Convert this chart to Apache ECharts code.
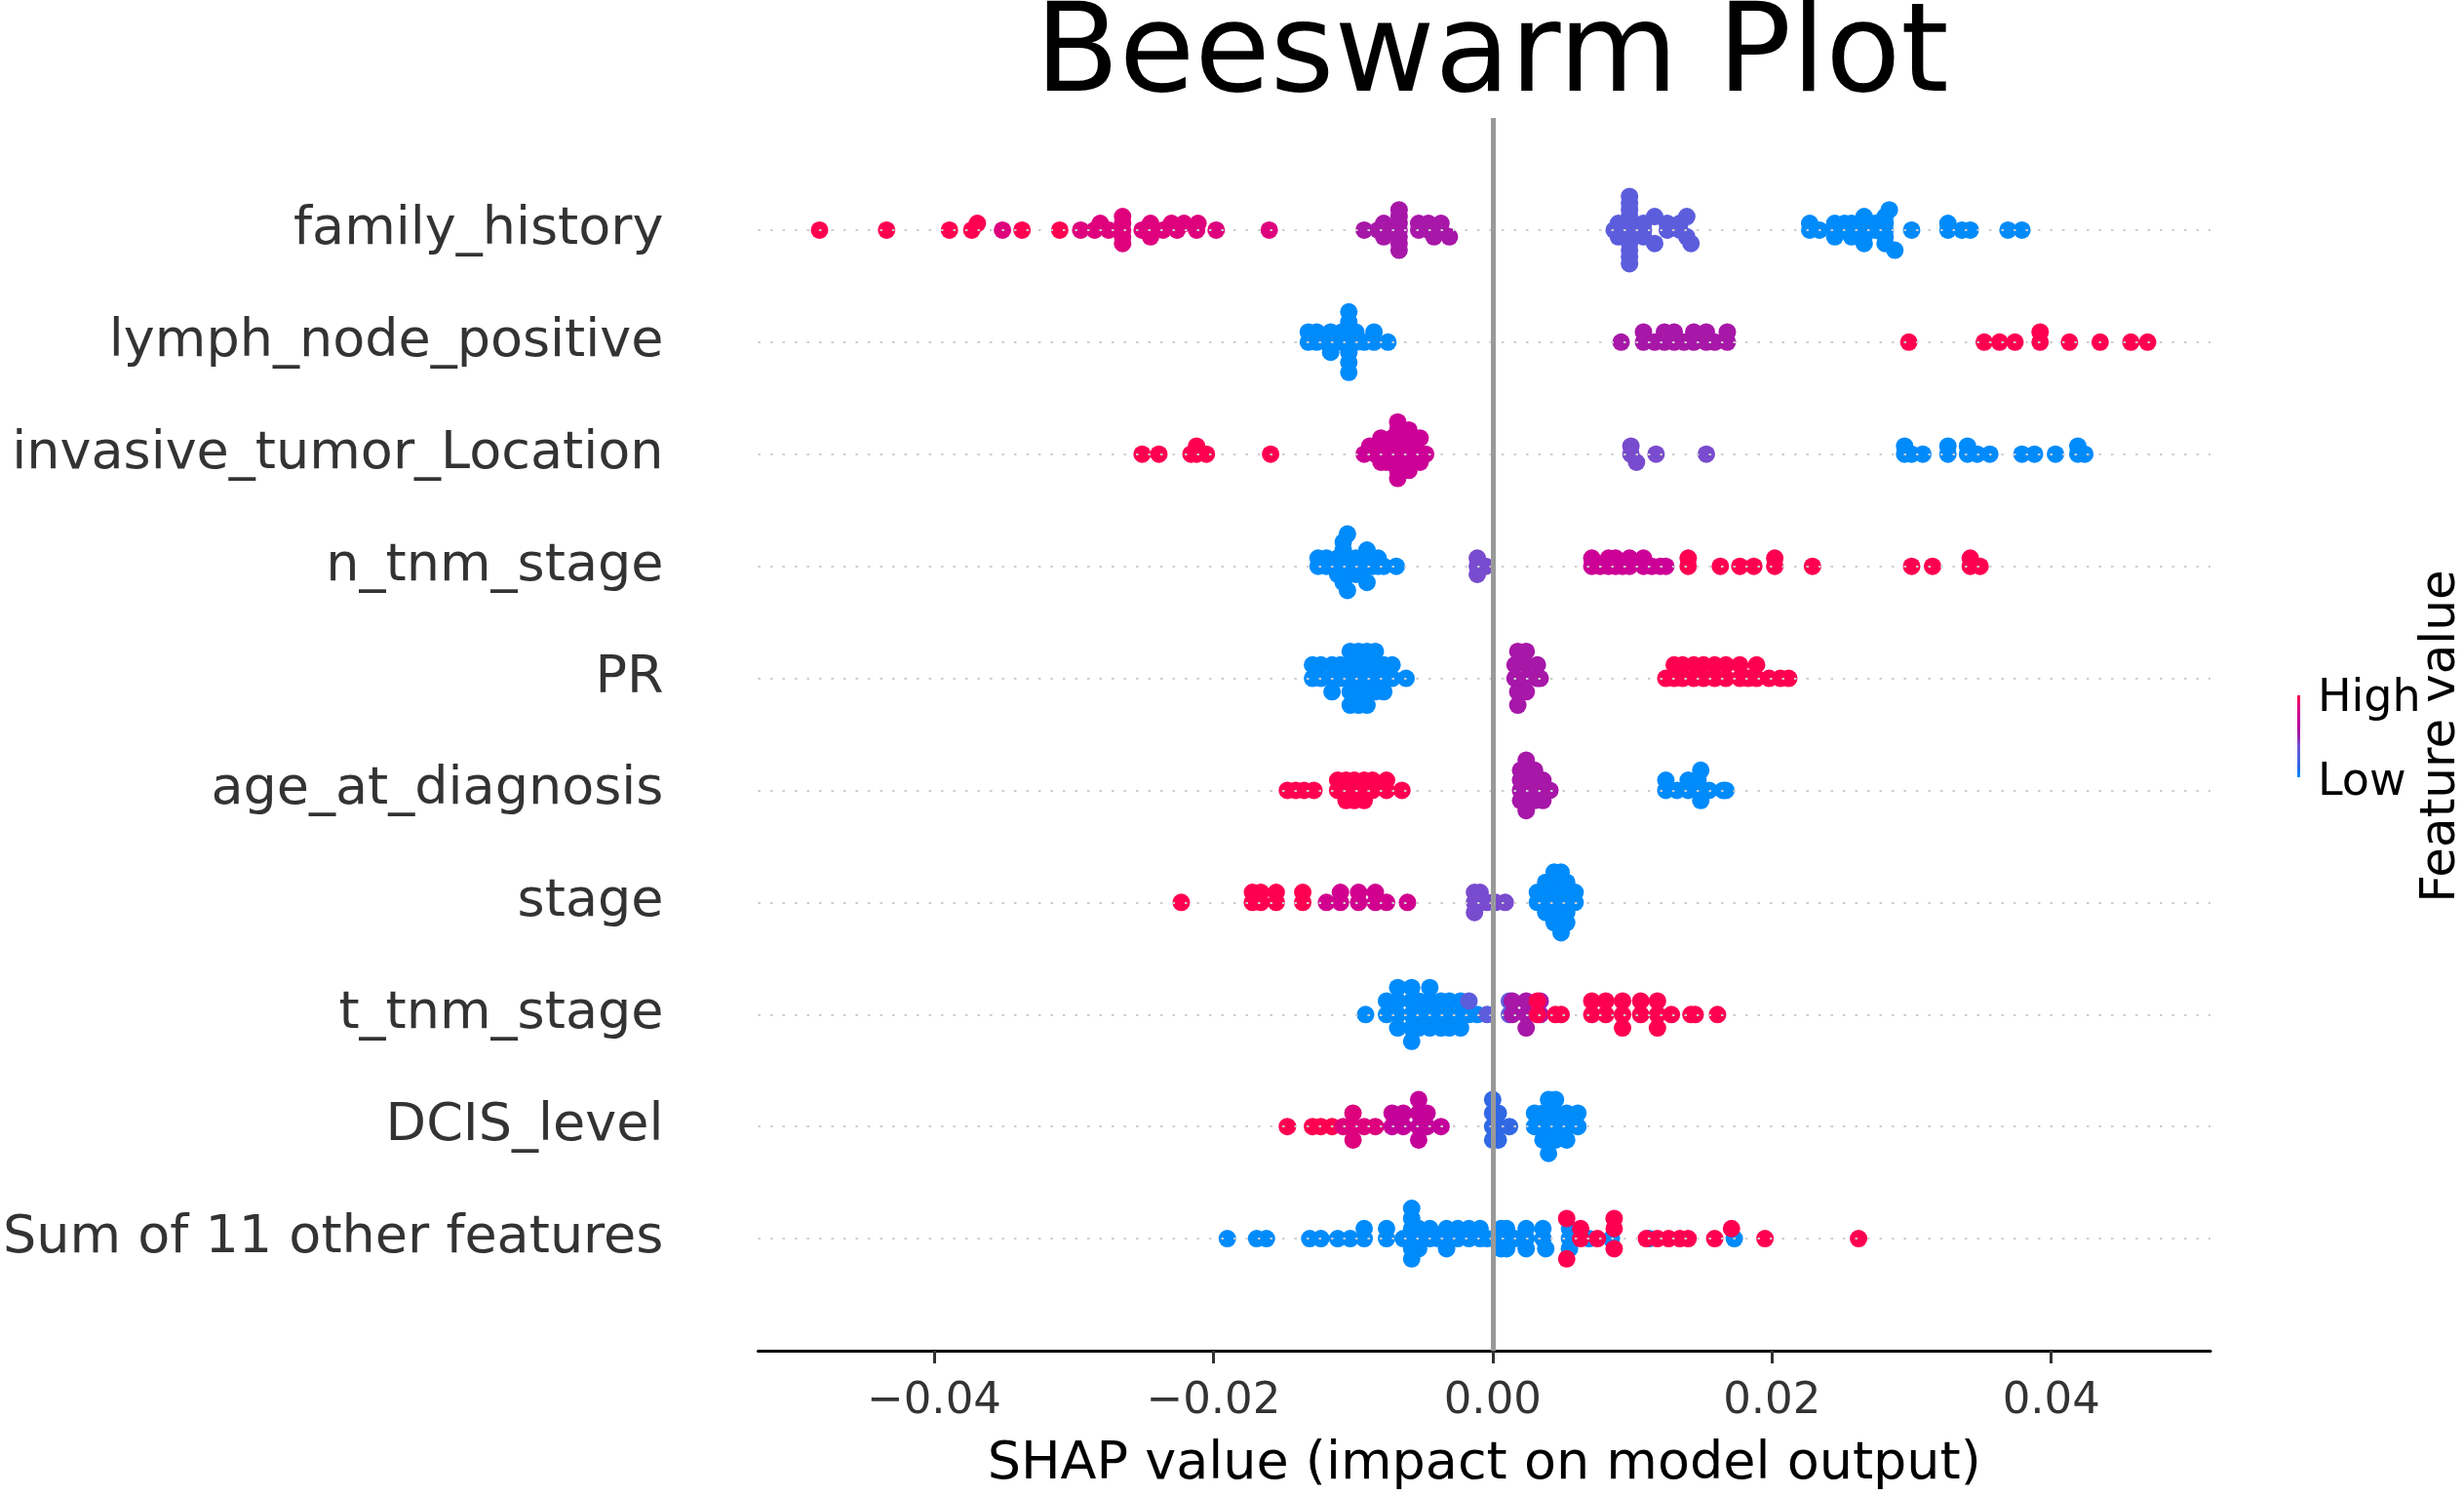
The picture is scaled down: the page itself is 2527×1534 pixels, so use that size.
<!DOCTYPE html>
<html>
<head>
<meta charset="utf-8">
<script src="https://cdn.jsdelivr.net/npm/echarts@6/dist/echarts.min.js"></script>
<style>
  html, body { margin: 0; padding: 0; background: #fff; }
  #main { width: 2527px; height: 1534px; }
</style>
</head>
<body>
<div id="main"></div>
<script>
// rows listed bottom -> top (row 0 is the bottom one)
const featureNames = [
  'Sum of 11 other features', 'DCIS_level', 't_tnm_stage', 'stage', 'age_at_diagnosis',
  'PR', 'n_tnm_stage', 'invasive_tumor_Location', 'lymph_node_positive', 'family_history'
];

const xTicks = [-0.04, -0.02, 0, 0.02, 0.04];

// each feature: [feature value level (0 = low, 1 = high), shap values]
const sumOther = [
  [0, [-0.0190, -0.0169, -0.0162, -0.0131, -0.0123, -0.0111, -0.0102, -0.0092, -0.0092, -0.0076, -0.0076, -0.0064,
       -0.0058, -0.0058, -0.0058, -0.0058, -0.0058, -0.0058, -0.0053, -0.0053, -0.0053, -0.0045, -0.0045, -0.0039,
       -0.0033, -0.0033, -0.0033, -0.0025, -0.0025, -0.0017, -0.0017, -0.0009, -0.0009, -0.0004, 0.0006, 0.0006, 0.0006,
       0.0010, 0.0010, 0.0010, 0.0016, 0.0024, 0.0024, 0.0024, 0.0036, 0.0036, 0.0038, 0.0055, 0.0055, 0.0055,
       0.0069, 0.0085, 0.0112, 0.0173]],
  [1, [0.0053, 0.0053, 0.0063, 0.0063, 0.0075, 0.0087, 0.0087, 0.0087, 0.0110, 0.0118, 0.0126, 0.0134, 0.0140,
       0.0159, 0.0171, 0.0195, 0.0262]]
];

const dcisLevel = [
  [1, [-0.0147, -0.0129, -0.0123, -0.0115]],
  [0.86, [-0.0107, -0.0100, -0.0100, -0.0100, -0.0092, -0.0084]],
  [0.7, [-0.0072, -0.0072, -0.0064, -0.0064, -0.0053, -0.0053, -0.0053, -0.0053, -0.0047, -0.0047, -0.0037]],
  [0.15, [0.0000, 0.0000, 0.0000, 0.0000, 0.0004, 0.0004, 0.0004, 0.0012]],
  [0, [0.0030, 0.0030, 0.0036, 0.0036, 0.0036, 0.0040, 0.0040, 0.0040, 0.0040, 0.0040, 0.0045, 0.0045, 0.0045,
       0.0045, 0.0053, 0.0053, 0.0053, 0.0061, 0.0061]]
];

const tTnmStage = [
  [0, [-0.0091, -0.0076, -0.0076, -0.0068, -0.0068, -0.0068, -0.0068, -0.0058, -0.0058, -0.0058, -0.0058, -0.0058,
       -0.0053, -0.0053, -0.0053, -0.0045, -0.0045, -0.0045, -0.0045, -0.0037, -0.0037, -0.0037, -0.0031, -0.0031,
       -0.0031, -0.0023, -0.0023, -0.0023, -0.0017, -0.0011]],
  [0.3, [-0.0017, -0.0004, 0.0012, 0.0012]],
  [0.55, [0.0014, 0.0014, 0.0024, 0.0024, 0.0024, 0.0034, 0.0034]],
  [1, [0.0032, 0.0032, 0.0045, 0.0049, 0.0071, 0.0071, 0.0081, 0.0081, 0.0093, 0.0093, 0.0093, 0.0106, 0.0106,
       0.0118, 0.0118, 0.0118, 0.0128, 0.0142, 0.0145, 0.0161]]
];

const stage = [
  [1, [-0.0223, -0.0172, -0.0172, -0.0166, -0.0166, -0.0155, -0.0155, -0.0136, -0.0136]],
  [0.78, [-0.0119, -0.0109, -0.0109, -0.0096, -0.0096, -0.0084, -0.0084, -0.0076, -0.0061]],
  [0.4, [-0.0013, -0.0013, -0.0013, -0.0009, -0.0009, -0.0004, 0.0002, 0.0009]],
  [0, [0.0032, 0.0032, 0.0038, 0.0038, 0.0038, 0.0038, 0.0044, 0.0044, 0.0044, 0.0044, 0.0044, 0.0044,
       0.0049, 0.0049, 0.0049, 0.0049, 0.0049, 0.0049, 0.0049, 0.0053, 0.0053, 0.0053, 0.0053, 0.0053, 0.0059, 0.0059]]
];

const ageAtDiagnosis = [
  [1, [-0.0147, -0.0141, -0.0135, -0.0128, -0.0111, -0.0111, -0.0105, -0.0105, -0.0105, -0.0099, -0.0099, -0.0099,
       -0.0092, -0.0092, -0.0092, -0.0086, -0.0086, -0.0076, -0.0076, -0.0065]],
  [0.55, [0.0020, 0.0020, 0.0020, 0.0020, 0.0024, 0.0024, 0.0024, 0.0024, 0.0024, 0.0024, 0.0030, 0.0030, 0.0030,
          0.0030, 0.0036, 0.0036, 0.0036, 0.0041]],
  [0, [0.0124, 0.0124, 0.0132, 0.0140, 0.0140, 0.0147, 0.0147, 0.0149, 0.0149, 0.0155, 0.0165, 0.0167]]
];

const pr = [
  [0, [-0.0129, -0.0129, -0.0123, -0.0123, -0.0115, -0.0115, -0.0115, -0.0109, -0.0109, -0.0102, -0.0102, -0.0102,
       -0.0102, -0.0102, -0.0096, -0.0096, -0.0096, -0.0096, -0.0096, -0.0090, -0.0090, -0.0090, -0.0090, -0.0090,
       -0.0084, -0.0084, -0.0084, -0.0084, -0.0078, -0.0078, -0.0078, -0.0072, -0.0072, -0.0062]],
  [0.55, [0.0016, 0.0016, 0.0018, 0.0018, 0.0018, 0.0024, 0.0024, 0.0024, 0.0024, 0.0032, 0.0032, 0.0034]],
  [1, [0.0124, 0.0130, 0.0130, 0.0136, 0.0136, 0.0144, 0.0144, 0.0151, 0.0151, 0.0159, 0.0159, 0.0167, 0.0167,
       0.0177, 0.0177, 0.0183, 0.0189, 0.0189, 0.0198, 0.0206, 0.0212]]
];

const nTnmStage = [
  [0, [-0.0125, -0.0125, -0.0119, -0.0119, -0.0111, -0.0111, -0.0111, -0.0107, -0.0107, -0.0107, -0.0107, -0.0107,
       -0.0107, -0.0104, -0.0104, -0.0098, -0.0098, -0.0098, -0.0094, -0.0094, -0.0094, -0.0090, -0.0090, -0.0086,
       -0.0086, -0.0082, -0.0082, -0.0078, -0.0069]],
  [0.4, [-0.0011, -0.0011, -0.0011, -0.0005]],
  [0.75, [0.0071, 0.0071, 0.0077, 0.0083, 0.0083, 0.0088, 0.0088, 0.0093, 0.0098, 0.0098, 0.0108, 0.0108, 0.0114,
          0.0120, 0.0124]],
  [1, [0.0140, 0.0140, 0.0163, 0.0177, 0.0187, 0.0202, 0.0202, 0.0229, 0.0300, 0.0315, 0.0342, 0.0342, 0.0349]]
];

const invasiveTumorLocation = [
  [1, [-0.0251, -0.0239, -0.0216, -0.0212, -0.0212, -0.0205, -0.0159]],
  [0.75, [-0.0092, -0.0088, -0.0084, -0.0084, -0.0080, -0.0080, -0.0076, -0.0076, -0.0076, -0.0072, -0.0072, -0.0072,
          -0.0072, -0.0068, -0.0068, -0.0068, -0.0068, -0.0064, -0.0064, -0.0064, -0.0060, -0.0060, -0.0060, -0.0056,
          -0.0056, -0.0052, -0.0052, -0.0048]],
  [0.4, [0.0099, 0.0099, 0.0103, 0.0117, 0.0153]],
  [0, [0.0295, 0.0295, 0.0300, 0.0308, 0.0326, 0.0326, 0.0340, 0.0340, 0.0347, 0.0356, 0.0379, 0.0388, 0.0403,
       0.0419, 0.0419, 0.0424]]
];

const lymphNodePositive = [
  [0, [-0.0132, -0.0132, -0.0126, -0.0126, -0.0119, -0.0116, -0.0116, -0.0116, -0.0108, -0.0108, -0.0103, -0.0103,
       -0.0103, -0.0103, -0.0103, -0.0103, -0.0103, -0.0098, -0.0098, -0.0092, -0.0085, -0.0085, -0.0075]],
  [0.55, [0.0092, 0.0108, 0.0108, 0.0116, 0.0123, 0.0123, 0.0130, 0.0130, 0.0137, 0.0144, 0.0144, 0.0153, 0.0153,
          0.0159, 0.0168, 0.0168]],
  [1, [0.0298, 0.0352, 0.0363, 0.0374, 0.0392, 0.0392, 0.0413, 0.0435, 0.0457, 0.0469]]
];

const familyHistory = [
  [1, [-0.0482, -0.0434, -0.0389, -0.0373, -0.0369, -0.0337, -0.0310]],
  [0.86, [-0.0351, -0.0295, -0.0285, -0.0281, -0.0275, -0.0265, -0.0265, -0.0265, -0.0265, -0.0265, -0.0251,
          -0.0245, -0.0245, -0.0245, -0.0236, -0.0230, -0.0226, -0.0221, -0.0212, -0.0211, -0.0198, -0.0160]],
  [0.55, [-0.0092, -0.0082, -0.0078, -0.0078, -0.0078, -0.0067, -0.0067, -0.0067, -0.0067, -0.0067, -0.0067,
          -0.0067, -0.0053, -0.0053, -0.0046, -0.0046, -0.0042, -0.0037, -0.0037, -0.0031]],
  [0.3, [0.0087, 0.0090, 0.0090, 0.0098, 0.0098, 0.0098, 0.0098, 0.0098, 0.0098, 0.0098, 0.0098, 0.0098, 0.0098,
         0.0098, 0.0108, 0.0108, 0.0108, 0.0116, 0.0116, 0.0125, 0.0125, 0.0134, 0.0134, 0.0139, 0.0139, 0.0142]],
  [0, [0.0227, 0.0227, 0.0234, 0.0245, 0.0245, 0.0245, 0.0252, 0.0252, 0.0257, 0.0257, 0.0257, 0.0266, 0.0266,
       0.0266, 0.0266, 0.0266, 0.0274, 0.0274, 0.0281, 0.0281, 0.0281, 0.0281, 0.0281, 0.0284, 0.0288, 0.0300,
       0.0326, 0.0326, 0.0336, 0.0342, 0.0369, 0.0379]]
];

const rows = [sumOther, dcisLevel, tTnmStage, stage, ageAtDiagnosis, pr, nTnmStage,
  invasiveTumorLocation, lymphNodePositive, familyHistory];

// shap-style swarm: bin by shap value, stack alternately above/below the row line
function swarmRow(groups, row) {
  const pts = [];
  groups.forEach(([level, vals]) => vals.forEach(v => pts.push([v, level])));
  const vals = pts.map(p => p[0]);
  const lo = Math.min(...vals), hi = Math.max(...vals);
  const quant = vals.map(v => Math.round(100 * (v - lo) / (hi - lo + 1e-8)));
  const order = vals.map((_, i) => i).sort((a, b) => quant[a] - quant[b] || a - b);
  const ys = new Array(vals.length).fill(0);
  let layer = 0, last = -1;
  order.forEach(i => {
    if (quant[i] !== last) layer = 0;
    ys[i] = Math.ceil(layer / 2) * ((layer % 2) * 2 - 1);
    layer++;
    last = quant[i];
  });
  const m = Math.max(...ys.map(y => y + 1));
  return pts.map((p, i) => [p[0], row + ys[i] * 0.9 * (0.4 / m), p[1]]);
}

let points = [];
rows.forEach((groups, r) => { points = points.concat(swarmRow(groups, r)); });

const cmap = ['#008bfb', '#2a6be6', '#4f63e0', '#7055d6', '#9c23ae', '#b8069f', '#cc0096', '#e0007a', '#ff0051'];
const FONT = 'DejaVu Sans';

const chart = echarts.init(document.getElementById('main'));
chart.setOption({
  animation: false,
  backgroundColor: '#ffffff',
  title: {
    text: 'Beeswarm Plot',
    left: 1525,
    top: -8,
    textAlign: 'center',
    textStyle: { fontFamily: FONT, fontSize: 126, fontWeight: 'normal', color: '#000' }
  },
  grid: { left: 776, right: 260, top: 121, bottom: 141 },
  xAxis: {
    type: 'value',
    min: -0.0526,
    max: 0.0514,
    name: 'SHAP value (impact on model output)',
    nameLocation: 'middle',
    nameGap: 90,
    nameTextStyle: { fontFamily: FONT, fontSize: 54, color: '#000' },
    axisLine: { show: true, onZero: false, lineStyle: { color: '#000', width: 3 } },
    axisTick: { show: true, length: 13, lineStyle: { color: '#333', width: 3 }, customValues: xTicks },
    axisLabel: {
      customValues: xTicks,
      margin: 30,
      fontFamily: FONT,
      fontSize: 45,
      color: '#333',
      formatter: v => (v < 0 ? '\u2212' : '') + Math.abs(v).toFixed(2)
    },
    splitLine: { show: false }
  },
  yAxis: {
    type: 'value',
    min: -1,
    max: 10,
    interval: 1,
    axisLine: { show: false },
    axisTick: { show: false },
    splitLine: { show: false },
    axisLabel: {
      margin: 97,
      padding: [0, 0, 14, 0],
      fontFamily: FONT,
      fontSize: 54,
      color: '#333',
      formatter: v => featureNames[v] || ''
    }
  },
  visualMap: {
    show: false,
    type: 'continuous',
    dimension: 2,
    min: 0,
    max: 1,
    seriesIndex: 1,
    inRange: { color: cmap }
  },
  series: [
    {
      type: 'scatter',
      data: [],
      z: 1,
      silent: true,
      markLine: {
        silent: true,
        symbol: 'none',
        label: { show: false },
        data: featureNames.map((_, i) => ({
          yAxis: i,
          lineStyle: { color: '#cccccc', width: 2, type: [2.5, 10] }
        })).concat([{ xAxis: 0, lineStyle: { color: '#999999', width: 5, type: 'solid' } }])
      }
    },
    {
      type: 'scatter',
      z: 3,
      symbolSize: 18,
      itemStyle: { opacity: 1 },
      data: points
    }
  ],
  graphic: [
    {
      type: 'rect',
      shape: { x: 2356, y: 713, width: 3, height: 84 },
      style: {
        fill: new echarts.graphic.LinearGradient(0, 0, 0, 1,
          cmap.slice().reverse().map((c, i, a) => ({ offset: i / (a.length - 1), color: c })))
      }
    },
    {
      type: 'text', x: 2377, y: 717,
      style: { text: 'High', fontFamily: FONT, fontSize: 46, fill: '#000', verticalAlign: 'middle' }
    },
    {
      type: 'text', x: 2377, y: 803,
      style: { text: 'Low', fontFamily: FONT, fontSize: 46, fill: '#000', verticalAlign: 'middle' }
    },
    {
      type: 'text', x: 2504, y: 755, rotation: Math.PI / 2,
      style: { text: 'Feature value', fontFamily: FONT, fontSize: 50, fill: '#000', align: 'center', verticalAlign: 'middle' }
    }
  ]
});
</script>
</body>
</html>
